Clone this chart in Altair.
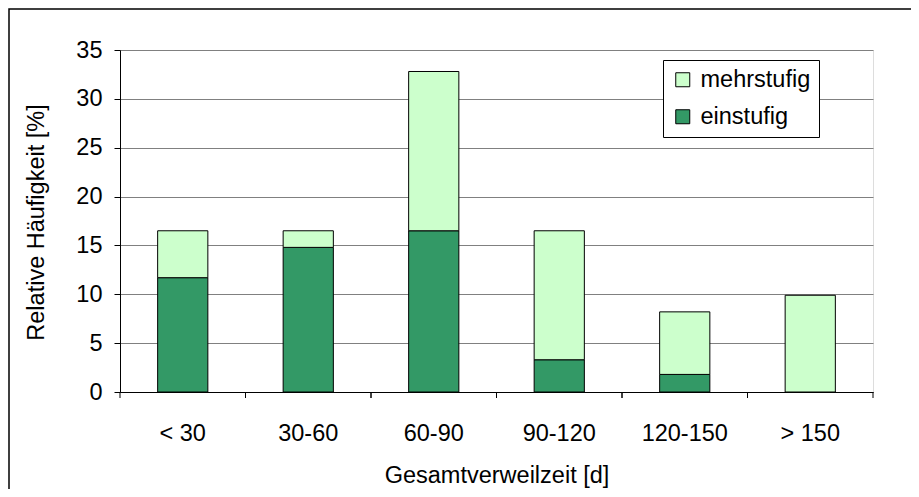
import altair as alt
import pandas as pd

categories = ["< 30", "30-60", "60-90", "90-120", "120-150", "> 150"]
einstufig = [11.7, 14.8, 16.5, 3.3, 1.8, 0.0]
mehrstufig = [4.8, 1.7, 16.3, 13.2, 6.4, 9.9]
series = ["mehrstufig", "einstufig"]
colors = ["#CCFFCC", "#339966"]
y_ticks = [0, 5, 10, 15, 20, 25, 30, 35]

rows = []
for c, e, m in zip(categories, einstufig, mehrstufig):
    rows.append({"cat": c, "typ": "einstufig", "val": e, "ord": 0})
    rows.append({"cat": c, "typ": "mehrstufig", "val": m, "ord": 1})
df = pd.DataFrame(rows)
cats_df = pd.DataFrame({"cat": categories})
one_df = pd.DataFrame({"a": [1]})

FONT = "Liberation Sans"
FS = 23.5

xscale = alt.Scale(domain=categories, paddingInner=0, paddingOuter=0)
xaxis = alt.Axis(
    title="Gesamtverweilzeit [d]", ticks=False, tickSize=0, labelAngle=0,
    labelPadding=29, labelBaseline="top", domainColor="black",
    titleY=90, titleBaseline="alphabetic", labelFontSize=FS, titleFontSize=FS,
    titleFontWeight="normal", labelColor="black", titleColor="black",
    labelFont=FONT, titleFont=FONT, grid=False,
)

border = alt.Chart(one_df).mark_rect(
    fillOpacity=0, stroke="black", strokeWidth=1.5
).encode(
    x=alt.value(-111), x2=alt.value(900), y=alt.value(-41), y2=alt.value(700)
)

bars = alt.Chart(df).mark_bar(
    width={"band": 0.4}, stroke="black", strokeWidth=1
).encode(
    x=alt.X("cat:N", scale=xscale, sort=categories, axis=xaxis),
    y=alt.Y(
        "val:Q", stack="zero",
        scale=alt.Scale(domain=[0, 35], nice=False),
        axis=alt.Axis(
            values=y_ticks, title="Relative Häufigkeit [%]",
            tickSize=6, tickColor="black", domainColor="black",
            labelPadding=12, labelFontSize=FS, labelColor="black", labelFont=FONT,
            gridColor="#808080", titleAngle=270, titleX=-77, titleY=172,
            titleBaseline="alphabetic", titleAlign="center",
            titleFontWeight="normal", titleFontSize=FS, titleFont=FONT,
            titleColor="black",
        ),
    ),
    color=alt.Color(
        "typ:N",
        scale=alt.Scale(domain=series, range=colors),
        legend=alt.Legend(
            title=None, orient="none", legendX=543, legendY=10,
            direction="vertical", symbolType="square", symbolSize=196,
            symbolStrokeColor="black", symbolStrokeWidth=1, symbolOpacity=1,
            labelFontSize=FS, labelFont=FONT, labelColor="black",
            strokeColor="black", fillColor="white", padding=8,
            rowPadding=12, labelOffset=6,
        ),
    ),
    order=alt.Order("ord:Q"),
)

ticks0 = alt.Chart(cats_df).mark_rule(color="black", strokeWidth=1).encode(
    x=alt.X("cat:N", bandPosition=0, scale=xscale, sort=categories, axis=xaxis),
    y=alt.value(342), y2=alt.value(348),
)
ticks1 = alt.Chart(cats_df).mark_rule(color="black", strokeWidth=1).encode(
    x=alt.X("cat:N", bandPosition=1, scale=xscale, sort=categories, axis=xaxis),
    y=alt.value(342), y2=alt.value(348),
)

chart = alt.layer(border, bars, ticks0, ticks1).properties(
    width=753, height=342,
    autosize=alt.AutoSizeParams(type="none"),
    padding={"left": 112, "top": 42, "right": 38, "bottom": 97},
).configure_view(stroke="#808080").configure(font=FONT)

chart.save("out.html", embed_options={"renderer": "svg", "actions": False})
